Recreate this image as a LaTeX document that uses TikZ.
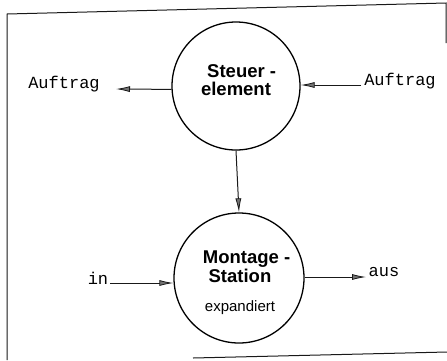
\documentclass[tikz,border=0pt]{standalone}
\usepackage{fontspec}
\setmainfont{Liberation Sans}
\setmonofont{Liberation Mono}
\usetikzlibrary{arrows.meta}
\begin{document}
\begin{tikzpicture}[x=1pt,y=-1pt,
  line/.style={draw=black!90, line width=1pt},
  flow/.style={line, -{Latex[length=14pt,width=6pt,fill=black!55,line width=0.8pt]}},
  bubble/.style={circle, draw=black, line width=1.3pt, inner sep=0pt},
  title/.style={font=\bfseries\fontsize{18.5}{20}\selectfont, anchor=base, inner sep=0pt},
  note/.style={font=\fontsize{15}{17}\selectfont, anchor=base, inner sep=0pt},
  io/.style={font=\ttfamily\fontsize{17}{19}\selectfont, anchor=base, inner sep=0pt}]
\useasboundingbox (0,0) rectangle (447,360);

% frame
\draw[line] (7,360) -- (7,14) -- (446,3) -- (446,43);
\draw[line] (193,358) -- (447,352);

% processes
\node[bubble, minimum size=128pt] (steuer) at (236,86) {};
\node[bubble, minimum size=130pt] (montage) at (239,278) {};

\node[title] (s1) at (236,77) {Steuer\rlap{ -}};
\node[title] (s2) at (236,95) {element};
\node[title] (m1) at (241,263) {Montage\rlap{ -}};
\node[title] (m2) at (240,282) {Station};
\node[note]  (m3) at (240,311) {expandiert};

% data flows
\node[io] (auftragaus) at (64,88) {Auftrag};
\coordinate (la) at (116,89);
\draw[flow] (steuer.183) -- (la);

\node[io] (auftragein) at (400,85) {Auftrag};
\coordinate (ra) at (361,85);
\draw[flow] (ra) -- (steuer.east |- ra);

\draw[flow] (steuer.south) -- (montage.north);

\node[io] (ein) at (98,284) {in};
\coordinate (ie) at (110,283);
\draw[flow] (ie) -- (montage.west |- ie);

\node[io] (aus) at (384,276) {aus};
\coordinate (ae) at (366,277);
\draw[flow] (montage.east |- ae) -- (ae);
\end{tikzpicture}
\end{document}
